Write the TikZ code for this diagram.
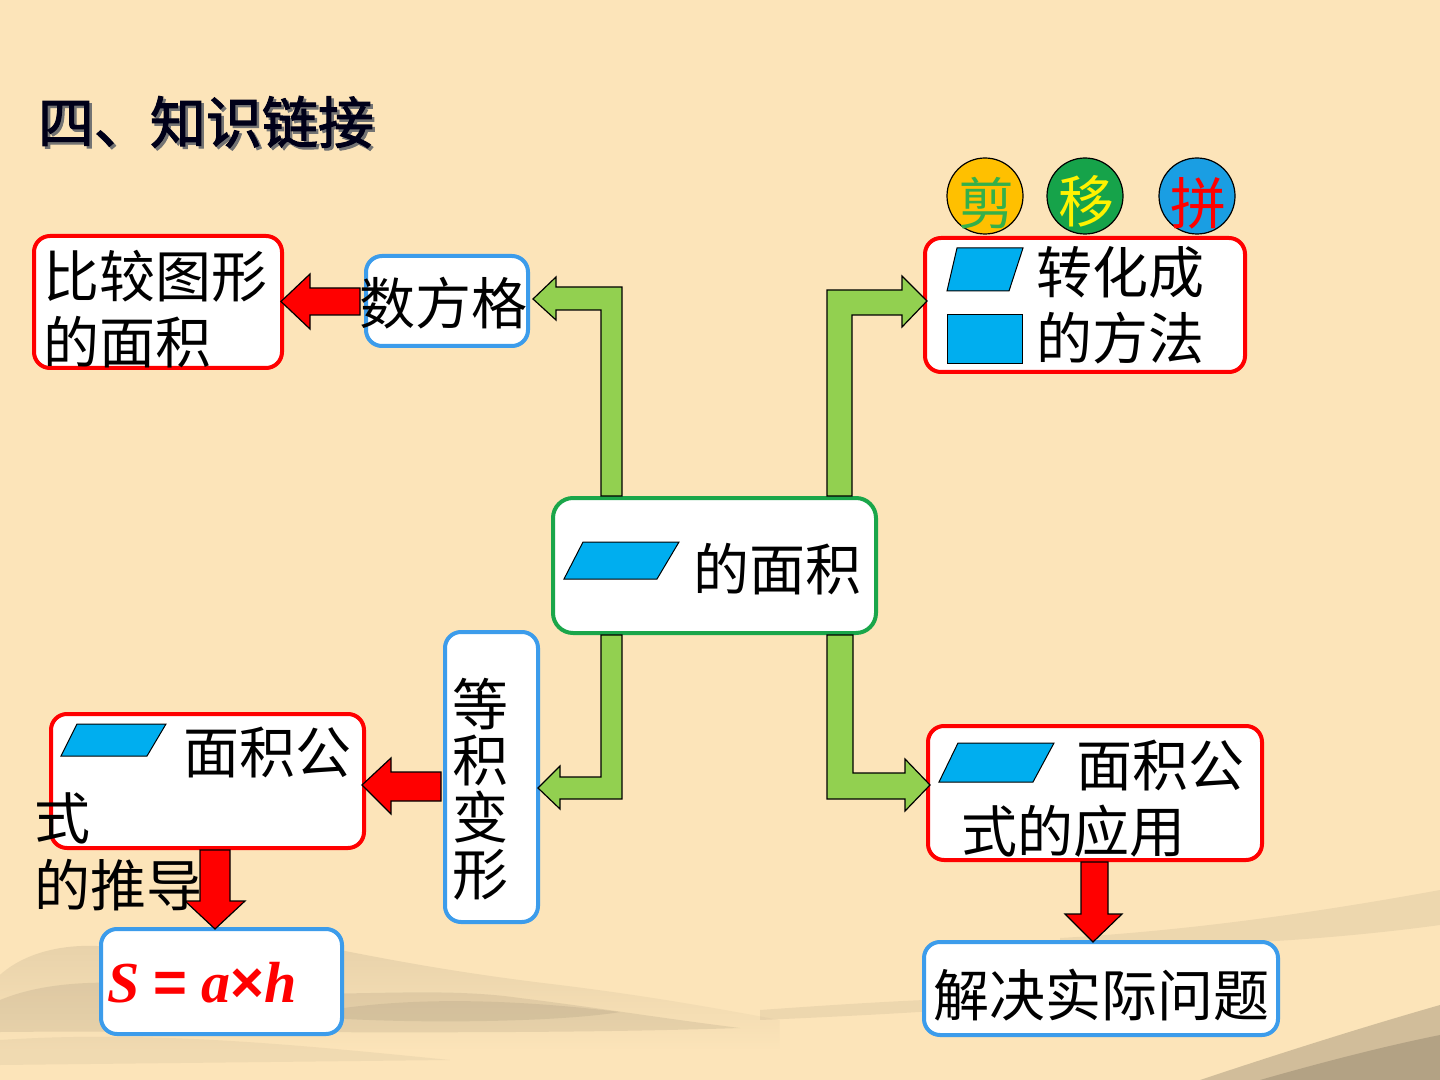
\documentclass[tikz,border=0pt]{standalone}
\usepackage{fontspec}
\setmainfont{Noto Sans CJK SC}
\newfontfamily\cjkbold[FakeBold=2]{Noto Sans CJK SC}
\newfontfamily\tnr{Liberation Serif}
\newfontfamily\arl{Liberation Sans}
\usetikzlibrary{calc,fadings}
\definecolor{bgc}{HTML}{FCE4B9}
\definecolor{hillc}{HTML}{6F6554}
\definecolor{redb}{HTML}{FF0000}
\definecolor{blueb}{HTML}{3C9CEB}
\definecolor{greenb}{HTML}{1AA64A}
\definecolor{para}{HTML}{00AEEF}
\definecolor{garrow}{HTML}{92D050}
\definecolor{cyel}{HTML}{FFC000}
\definecolor{cgrn}{HTML}{16A34A}
\definecolor{cblu}{HTML}{1A9EE3}
\definecolor{tgrn}{HTML}{34B04A}
\begin{document}
\begin{tikzpicture}[x=0.5pt,y=-0.5pt,
  box/.style={draw, line width=2pt, fill=white, rounded corners=8pt, inner sep=0pt},
  redbox/.style={box, draw=redb},
  bluebox/.style={box, draw=blueb},
  txt/.style={inner sep=0pt, font=\fontsize{28pt}{33pt}\selectfont},
  pgram/.style={fill=para, draw=black, line width=0.5pt},
  greenarr/.style={fill=garrow, draw=black, line width=0.6pt},
  redarr/.style={fill=redb, draw=black, line width=0.6pt},
  wash/.style={fill=hillc, path fading=south},
  circ/.style={circle, draw=black, line width=0.6pt, minimum size=38pt, inner sep=0pt}]
\useasboundingbox (0,0) rectangle (1440,1080);
\fill[bgc] (0,0) rectangle (1440,1080);
% ink-wash hills (left)
\fill[wash, fill opacity=0.16] (0,975) .. controls (30,948) and (80,940) .. (130,950) .. controls (190,960) and (240,930) .. (300,942) .. controls (380,958) and (450,972) .. (560,985) .. controls (640,995) and (700,1005) .. (780,1020) -- (780,1050) -- (0,1050) -- cycle;
\fill[hillc, fill opacity=0.13] (0,1000) .. controls (60,975) and (140,982) .. (220,990) .. controls (330,1000) and (430,985) .. (520,998) .. controls (600,1008) and (660,1018) .. (740,1028) .. controls (500,1036) and (200,1030) .. (0,1032) -- cycle;
\fill[hillc, fill opacity=0.12] (330,1010) .. controls (420,996) and (520,1000) .. (620,1012) .. controls (560,1022) and (420,1024) .. (330,1018) -- cycle;
\fill[hillc, fill opacity=0.08] (0,1040) .. controls (150,1030) and (300,1045) .. (450,1060) -- (0,1065) -- cycle;
% right streaks
\fill[hillc, fill opacity=0.10] (1060,938) .. controls (1200,930) and (1330,910) .. (1440,890) -- (1440,925) .. controls (1330,940) and (1200,948) .. (1060,946) -- cycle;
\fill[hillc, fill opacity=0.10] (760,1010) .. controls (900,1000) and (1000,995) .. (1100,998) .. controls (1000,1008) and (880,1015) .. (760,1020) -- cycle;
\fill[hillc, fill opacity=0.30] (1200,1080) .. controls (1290,1050) and (1370,1025) .. (1440,1005) -- (1440,1080) -- cycle;
\fill[hillc, fill opacity=0.30] (1260,1080) .. controls (1330,1060) and (1390,1045) .. (1440,1035) -- (1440,1080) -- cycle;

% title
\node[inner sep=0pt, text=black!55, font=\cjkbold\fontsize{28pt}{33pt}\selectfont] (titles) at (208.5,124.5) {四、知识链接};
\node[inner sep=0pt, text=black!90!blue, font=\cjkbold\fontsize{28pt}{33pt}\selectfont] (title) at (206,122) {四、知识链接};

% boxes
\node[redbox, minimum width=124pt, minimum height=66pt] (b1) at (158,302) {};
\node[bluebox, minimum width=81pt, minimum height=45pt] (sfg) at (447,301) {};
\node[box, draw=greenb, rounded corners=10pt, minimum width=161.5pt, minimum height=67.5pt] (cen) at (714.5,565.5) {};
\node[redbox, minimum width=160pt, minimum height=67pt] (tr) at (1085,305) {};
\node[redbox, minimum width=156.5pt, minimum height=67pt] (bl) at (207.5,781) {};
\node[bluebox, minimum width=46.5pt, minimum height=145pt] (dj) at (491.5,777) {};
\node[bluebox, minimum width=120.5pt, minimum height=52.5pt] (sb) at (221.5,981.5) {};
\node[redbox, minimum width=167pt, minimum height=67pt] (br) at (1095,793) {};
\node[bluebox, minimum width=177pt, minimum height=46.5pt] (jj) at (1101,988.5) {};

% parallelograms
\draw[pgram] (564,579) -- (583,542) -- (679,542) -- (657,579) -- cycle;
\draw[pgram] (947,291) -- (957,248) -- (1023,248) -- (1009,291) -- cycle;
\draw[pgram] (947,315) rectangle (1022,364);
\draw[pgram] (61,756) -- (77,724) -- (166,724) -- (147,756) -- cycle;
\draw[pgram] (939,782) -- (958,743) -- (1054,743) -- (1033,782) -- cycle;

% circles
\node[circ, fill=cyel] (c1) at (985,196) {};
\node[circ, fill=cgrn] (c2) at (1085,196) {};
\node[circ, fill=cblu] (c3) at (1197,196) {};
\node[txt, text=tgrn] (c1t) at (986,203) {剪};
\node[txt, text=yellow] (c2t) at (1086,201) {移};
\node[txt, text=redb] (c3t) at (1198,203) {拼};

% texts
\node[txt, anchor=west, align=left] (t1) at (43,309.5) {比较图形\\的面积};
\node[txt] (t2) at (443.5,303) {数方格};
\node[txt] (t3) at (777.5,569) {的面积};
\node[txt, anchor=west, align=left] (t4) at (1036,305.5) {转化成\\的方法};
\node[txt, anchor=west, align=left, font=\fontsize{28pt}{33.25pt}\selectfont] (t5) at (34,818.5) {\hspace*{74.5pt}面积公\\式\\的推导};
\node[txt, align=center, font=\fontsize{28pt}{28.3pt}\selectfont] (t6) at (480.5,789) {等\\积\\变\\形};
\node[inner sep=0pt, text=redb, font=\bfseries\fontsize{29pt}{33pt}\selectfont] (t7) at (202,983) {{\tnr\itshape S}\hspace{7pt}{\arl=}\hspace{7pt}{\tnr\itshape a}{\arl×}{\tnr\itshape h}};
\node[txt, anchor=west, align=left] (t8) at (961,799) {\hspace*{57.5pt}面积公\\式的应用};
\node[txt] (t9) at (1101,995) {解决实际问题};

% green bent arrows from the central box
\draw[greenarr] ($(cen.north west)+(50,0)$) -- ++(0,-186) -- ++(-45,0) -- ++(0,10) -- ++(-23,-21) -- ++(23,-22) -- ++(0,10) -- ++(66,0) -- ++(0,209) -- cycle;
\draw[greenarr] ($(cen.north east)+(-51,0)$) -- ++(0,-206) -- ++(75,0) -- ++(0,-14) -- ++(25,25) -- ++(-25,26) -- ++(0,-12) -- ++(-50,0) -- ++(0,181) -- cycle;
\draw[greenarr] ($(cen.south west)+(50,0)$) -- ++(0,142) -- ++(-41,0) -- ++(0,-11) -- ++(-22,22) -- ++(22,21) -- ++(0,-10) -- ++(62,0) -- ++(0,-164) -- cycle;
\draw[greenarr] ($(cen.south east)+(-51,0)$) -- ++(0,164) -- ++(78,0) -- ++(0,12) -- ++(25,-26) -- ++(-25,-26) -- ++(0,14) -- ++(-52,0) -- ++(0,-138) -- cycle;

% red block arrows
\draw[redarr] ($(sfg.west)+(-4,-13)$) -- ++(-50,0) -- ++(0,-14) -- ++(-29,27.5) -- ++(29,27.5) -- ++(0,-14) -- ++(50,0) -- cycle;
\draw[redarr] ($(dj.west)+(-2,-5)$) -- ++(-50,0) -- ++(0,-14) -- ++(-29,27) -- ++(29,29) -- ++(0,-13) -- ++(50,0) -- cycle;
\draw[redarr] ($(bl.south west)+(151,0)$) -- ++(0,51) -- ++(-15,0) -- ++(30,28) -- ++(30,-28) -- ++(-15,0) -- ++(0,-51) -- cycle;
\draw[redarr] ($(br.south west)+(155,0)$) -- ++(0,52) -- ++(-16,0) -- ++(28,28) -- ++(29,-28) -- ++(-14,0) -- ++(0,-52) -- cycle;
\end{tikzpicture}
\end{document}
